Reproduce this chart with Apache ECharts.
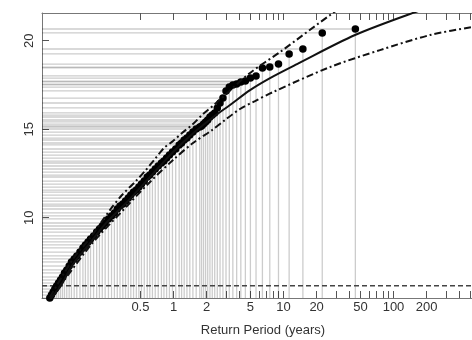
<!DOCTYPE html>
<html>
<head>
<meta charset="utf-8">
<script src="https://cdn.jsdelivr.net/npm/echarts@6/dist/echarts.min.js"></script>
<style>
  html, body { margin: 0; padding: 0; background: #fff; }
  #chart { width: 472px; height: 340px; }
</style>
</head>
<body>
<div id="chart"></div>
<script>
// empirical return periods (years) and observed levels
var periods = [0.075, 0.0776, 0.0804, 0.0833, 0.0865, 0.09, 0.0938, 0.0978, 0.102, 0.107,
  0.1125, 0.118, 0.125, 0.132, 0.141, 0.15, 0.158, 0.167, 0.176, 0.1875,
  0.2, 0.212, 0.225, 0.239, 0.256, 0.273, 0.29, 0.308, 0.326, 0.346,
  0.366, 0.388, 0.409, 0.433, 0.459, 0.484, 0.511, 0.542, 0.577, 0.608,
  0.643, 0.682, 0.726, 0.776, 0.818, 0.865, 0.918, 0.978, 1.047, 1.125,
  1.184, 1.25, 1.324, 1.406, 1.5, 1.607, 1.731, 1.8, 1.875, 1.957,
  2.045, 2.143, 2.25, 2.368, 2.5, 2.647, 2.813, 3, 3.214, 3.462,
  3.75, 4.091, 4.5, 5, 5.625, 6.429, 7.5, 9, 11.25, 15, 22.5, 45];
var levels = [5.46, 5.63, 5.80, 5.97, 6.14, 6.31, 6.48, 6.65, 6.88, 7.05,
  7.27, 7.50, 7.67, 7.84, 8.06, 8.29, 8.46, 8.63, 8.80, 8.97,
  9.19, 9.36, 9.53, 9.70, 9.93, 10.10, 10.27, 10.49, 10.66, 10.77,
  10.94, 11.11, 11.28, 11.45, 11.56, 11.73, 11.90, 12.07, 12.30, 12.41,
  12.58, 12.75, 12.92, 13.09, 13.20, 13.37, 13.54, 13.71, 13.88, 14.11,
  14.22, 14.39, 14.50, 14.67, 14.84, 15.01, 15.12, 15.18, 15.29, 15.41,
  15.52, 15.69, 15.80, 15.92, 16.20, 16.48, 16.76, 17.16, 17.38, 17.50,
  17.55, 17.67, 17.72, 17.89, 18.01, 18.46, 18.51, 18.68, 19.25, 19.53, 20.44, 20.66];

// fitted return level curve
var fitPeriods = [0.0754, 0.0929, 0.1221, 0.1741, 0.2486, 0.3778, 0.6113, 0.99, 1.413, 2.239,
  3.264, 4.961, 7.541, 13.27, 44.67, 150.4, 517, 665];
var fitLevels = [5.41, 6.08, 7.38, 8.57, 9.76, 10.89, 12.30, 13.71, 14.62, 15.63,
  16.37, 17.21, 17.89, 18.68, 20.32, 21.57, 22.70, 22.92];

// confidence bounds
var upperPeriods = [0.0754, 0.1221, 0.1741, 0.2648, 0.3402, 0.4467, 0.5508, 0.679, 0.8199, 0.99,
  1.195, 1.473, 1.816, 2.384, 4.961, 9.295, 28.18, 49.61];
var upperLevels = [5.52, 7.67, 8.85, 10.44, 11.28, 12.02, 12.64, 13.32, 13.94, 14.33,
  14.79, 15.24, 15.80, 16.42, 18.18, 19.36, 21.57, 22.58];
var lowerPeriods = [0.0754, 0.1741, 0.3778, 0.6113, 0.99, 1.504, 2.239, 2.939, 4.022, 5.507,
  8.027, 26.47, 75.4, 214.7, 517, 665];
var lowerLevels = [5.35, 8.40, 10.66, 12.02, 13.26, 14.22, 14.95, 15.52, 16.14, 16.59,
  17.10, 18.51, 19.47, 20.32, 20.77, 20.89];

var threshold = 6.16;

var labelPeriods = [0.5, 1, 2, 5, 10, 20, 50, 100, 200];
var tickLabels = ['0.5', '1', '2', '5', '10', '20', '50', '100', '200'];
var tickPeriods = [0.5, 1, 2, 3, 4, 5, 6, 7, 8, 9, 10, 20, 30, 40, 50, 60, 70, 80, 90,
  100, 200, 300, 400, 500, 600];
var yTicks = [10, 15, 20];

var xMin = Math.log10(0.0637), xMax = Math.log10(665);
var yMin = 5.463, yMax = 21.565;

function pairs(ts, vs) {
  return ts.map(function (t, i) { return [Math.log10(t), vs[i]]; });
}

var points = pairs(periods, levels);
var logLabels = labelPeriods.map(function (t) { return Math.log10(t); });
var logTicks = tickPeriods.map(function (t) { return Math.log10(t); });

var chart = echarts.init(document.getElementById('chart'));
var font = 'Liberation Sans, Arial, sans-serif';

var option = {
  animation: false,
  grid: { left: 42, right: -12, top: 13, bottom: 42, outerBoundsMode: 'none' },
  xAxis: [{
    type: 'value', min: xMin, max: xMax,
    name: 'Return Period (years)', nameLocation: 'middle', nameGap: 26,
    nameTextStyle: { fontSize: 13, color: '#333', fontFamily: font },
    axisLine: { show: true, onZero: false, lineStyle: { color: '#777' } },
    axisTick: { show: true, inside: true, length: 7, lineStyle: { color: '#555' }, customValues: logTicks },
    axisLabel: { customValues: logLabels, margin: 3, fontSize: 13, color: '#333', fontFamily: font,
      formatter: function (v) {
        for (var i = 0; i < logLabels.length; i++) {
          if (Math.abs(logLabels[i] - v) < 1e-6) return tickLabels[i];
        }
        return '';
      } },
    splitLine: { show: false }
  }, {
    type: 'value', position: 'top', min: xMin, max: xMax,
    axisLine: { show: true, onZero: false, lineStyle: { color: '#777' } },
    axisTick: { show: true, inside: true, length: 7, lineStyle: { color: '#555' }, customValues: logTicks },
    axisLabel: { show: false },
    splitLine: { show: false }
  }],
  yAxis: {
    type: 'value', min: yMin, max: yMax,
    axisLine: { show: true, onZero: false, lineStyle: { color: '#777' } },
    axisTick: { show: true, inside: true, length: 7, lineStyle: { color: '#555' }, customValues: yTicks },
    axisLabel: { customValues: yTicks, rotate: 90, margin: 6, fontSize: 13, color: '#333', fontFamily: font },
    splitLine: { show: false }
  },
  series: [{
    // grey guide lines from each point to the axes
    type: 'custom',
    data: points,
    z: 1,
    silent: true,
    renderItem: function (params, api) {
      var p = api.coord([api.value(0), api.value(1)]);
      var l = api.coord([xMin, api.value(1)]);
      var b = api.coord([api.value(0), yMin]);
      var st = { stroke: 'rgba(0,0,0,0.2)', lineWidth: 1.3 };
      return {
        type: 'group',
        children: [
          { type: 'line', shape: { x1: l[0], y1: p[1], x2: p[0], y2: p[1] }, style: st },
          { type: 'line', shape: { x1: p[0], y1: p[1], x2: p[0], y2: b[1] }, style: st }
        ]
      };
    }
  }, {
    type: 'line',
    data: [[xMin, threshold], [xMax, threshold]],
    showSymbol: false, z: 2,
    lineStyle: { color: '#444', width: 1.5, type: [5, 3] }
  }, {
    type: 'scatter',
    data: points,
    symbolSize: 7.5, z: 3,
    itemStyle: { color: '#000', opacity: 1 }
  }, {
    type: 'line',
    data: pairs(fitPeriods, fitLevels),
    showSymbol: false, smooth: 0.3, z: 4,
    lineStyle: { color: '#111', width: 2 }
  }, {
    type: 'line',
    data: pairs(upperPeriods, upperLevels),
    showSymbol: false, smooth: 0.3, z: 4,
    lineStyle: { color: '#111', width: 2, type: [7, 3, 2, 3] }
  }, {
    type: 'line',
    data: pairs(lowerPeriods, lowerLevels),
    showSymbol: false, smooth: 0.3, z: 4,
    lineStyle: { color: '#111', width: 2, type: [7, 3, 2, 3] }
  }]
};

chart.setOption(option);
window.addEventListener('resize', function () { chart.resize(); });
</script>
</body>
</html>
